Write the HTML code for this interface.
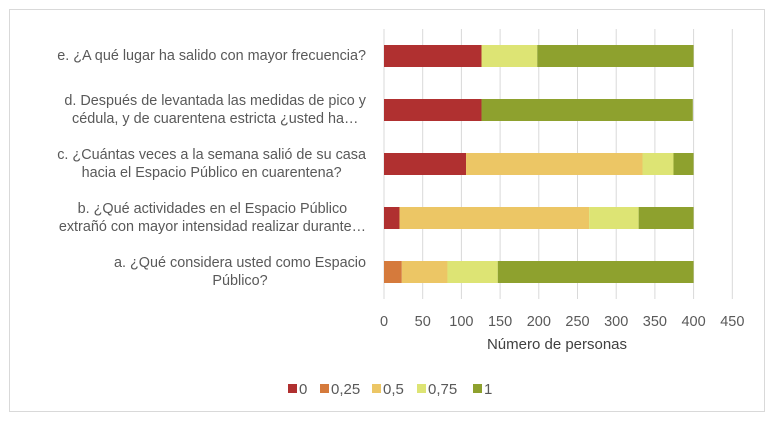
<!DOCTYPE html>
<html><head><meta charset="utf-8"><style>
body{margin:0;background:#fff;}
#wrap{position:relative;width:775px;height:423px;font-family:"Liberation Sans",Arial,sans-serif;color:#595959;}
.frame{position:absolute;left:9px;top:9px;width:756px;height:403px;border:1px solid #d9d9d9;box-sizing:border-box;}
.lbl{position:absolute;right:409px;text-align:center;white-space:nowrap;font-size:14.4px;line-height:18px;}
</style></head><body>
<div id="wrap">
<div class="frame"></div>
<div class="lbl" style="top:47px">e. ¿A qué lugar ha salido con mayor frecuencia?</div>
<div class="lbl" style="top:92px">d. Después de levantada las medidas de pico y<br>cédula, y de cuarentena estricta ¿usted ha…</div>
<div class="lbl" style="top:146px">c. ¿Cuántas veces a la semana salió de su casa<br>hacia el Espacio Público en cuarentena?</div>
<div class="lbl" style="top:200px">b. ¿Qué actividades en el Espacio Público<br>extrañó con mayor intensidad realizar durante…</div>
<div class="lbl" style="top:254px">a. ¿Qué considera usted como Espacio<br>Público?</div>
<svg id="svg" width="775" height="423" style="position:absolute;left:0;top:0"></svg>
</div>
<script>
const categories=["e","d","c","b","a"];
const seriesNames=["0","0,25","0,5","0,75","1"];
const colors=["#b03030","#d57a3c","#ecc665","#dde474","#8ea12e"];
const s0=[126,126,106,20,0];
const s025=[0,0,0,0,23];
const s05=[0,0,228,245,59];
const s075=[72,0,40,64,65];
const s1=[202,273,26,71,253];
const series=[s0,s025,s05,s075,s1];
const ticks=[0,50,100,150,200,250,300,350,400,450];
const NS="http://www.w3.org/2000/svg";
const svg=document.getElementById('svg');
const x0=384,pxPer=0.774,top0=29,band=54,barH=22;
const xs=v=>x0+v*pxPer;
const yc=i=>top0+band*i+band/2;
function mk(t,a){const e=document.createElementNS(NS,t);for(const k in a)e.setAttribute(k,a[k]);svg.appendChild(e);return e;}
ticks.forEach(t=>{
 const l=mk('line',{x1:xs(t),x2:xs(t),y1:top0,y2:top0+band*5,stroke:'#d9d9d9','stroke-width':1});
 
 
 const tx=mk('text',{x:xs(t),y:326,'text-anchor':'middle','font-size':14.5,fill:'#595959','font-family':'Liberation Sans, sans-serif'});
 tx.textContent=t;
 
 
});
categories.forEach((c,i)=>{
 let acc=0;
 series.forEach((s,j)=>{
  const v=s[i];
  if(v>0){
   const r=mk('rect',{x:xs(acc),y:yc(i)-barH/2,width:v*pxPer,height:barH,fill:colors[j]});
   
   
  }
  acc+=v;
 });
});
const at=mk('text',{x:557,y:349,'text-anchor':'middle','font-size':15,fill:'#404040','font-family':'Liberation Sans, sans-serif'});
at.textContent='Número de personas';


const lx=[288,320,372,417,473];
seriesNames.forEach((n,j)=>{
 const r=mk('rect',{x:lx[j],y:384,width:9,height:9,fill:colors[j]});
 
 
 const t=mk('text',{x:lx[j]+11,y:394,'font-size':15,fill:'#595959','font-family':'Liberation Sans, sans-serif'});
 t.textContent=n;
 
 
});
</script>
</body></html>
